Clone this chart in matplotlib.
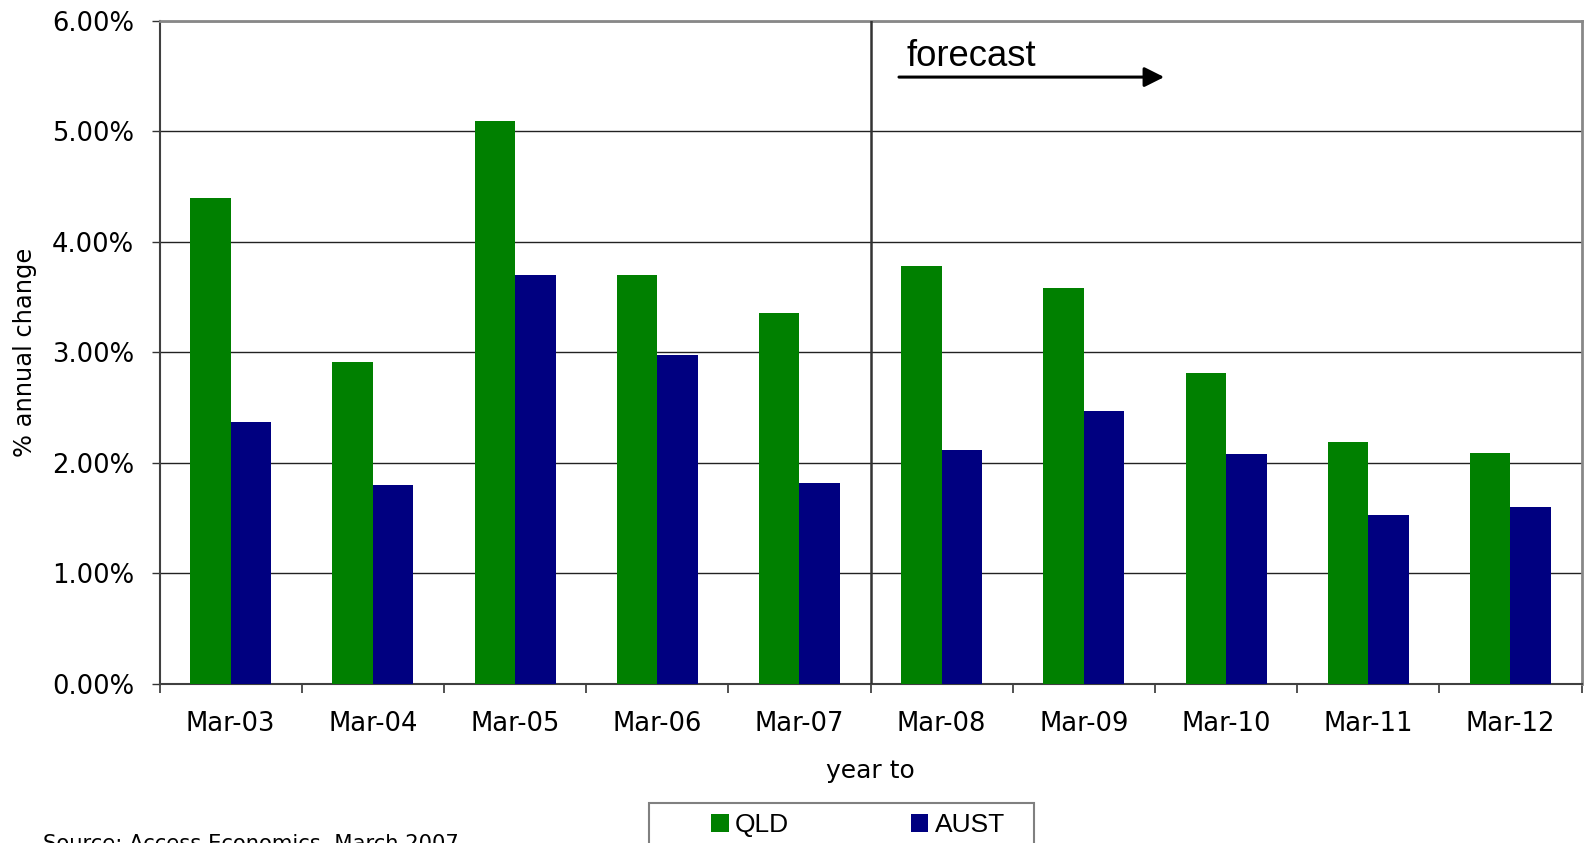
import numpy as np
import matplotlib
matplotlib.use("Agg")
import matplotlib.pyplot as plt
from matplotlib.patches import Patch, Rectangle
from matplotlib.ticker import FixedLocator, FuncFormatter

# annual change (%) for year to March
years = ["Mar-03", "Mar-04", "Mar-05", "Mar-06", "Mar-07",
         "Mar-08", "Mar-09", "Mar-10", "Mar-11", "Mar-12"]
qld = [4.40, 2.91, 5.09, 3.70, 3.36, 3.78, 3.58, 2.81, 2.19, 2.09]
aust = [2.37, 1.80, 3.70, 2.98, 1.82, 2.12, 2.47, 2.08, 1.53, 1.60]
first_forecast = "Mar-08"

GREEN = "#008000"
NAVY = "#000080"

W, H = 1584, 843


def fx(px):
    return px / W


def fy(py):
    return 1 - py / H


plt.rcParams["font.family"] = "DejaVu Sans"

fig = plt.figure(figsize=(W / 100, H / 100), dpi=100)
ax = fig.add_axes([fx(159.6), fy(684), fx(1581.5) - fx(159.6), (684 - 20.7) / H])

x = np.arange(len(years))
w = 0.285
ax.bar(x - w / 2, qld, w, color=GREEN, zorder=3)
ax.bar(x + w / 2, aust, w, color=NAVY, zorder=3)

ax.set_xlim(-0.5, len(years) - 0.5)
ax.set_ylim(0, 6)

# y axis: percent labels and black gridlines
ax.yaxis.set_major_locator(FixedLocator(np.arange(0, 7, 1)))
ax.yaxis.set_major_formatter(FuncFormatter(lambda v, p: "%.2f%%" % v))
ax.yaxis.grid(True, color="#222222", lw=1.0, zorder=1)
ax.set_axisbelow(True)
ax.tick_params(axis="y", length=5.8, width=1.0, color="#333333", pad=12.5,
               labelsize=18.6)

# x axis: labels centred on groups, tick marks between groups
ax.set_xticks(x)
ax.set_xticklabels(years)
ax.xaxis.set_minor_locator(FixedLocator(np.arange(-0.5, len(years), 1)))
ax.tick_params(axis="x", which="major", length=0, pad=19.5, labelsize=18.6)
ax.tick_params(axis="x", which="minor", length=6.5, width=1.2, color="#333333")

for side in ["left", "bottom"]:
    ax.spines[side].set_color("#404040")
    ax.spines[side].set_linewidth(1.5)
for side in ["top", "right"]:
    ax.spines[side].set_color("#888888")
    ax.spines[side].set_linewidth(2.0)

# split between actuals and forecast
split = years.index(first_forecast) - 0.5
ax.axvline(split, color="#333333", lw=1.8, zorder=4)
ax.annotate("", xy=(0.7065, 0.915), xytext=(0.520, 0.915),
            xycoords="axes fraction",
            arrowprops=dict(arrowstyle="-|>,head_length=0.6,head_width=0.3",
                            lw=2.2, color="black", mutation_scale=20,
                            shrinkA=0, shrinkB=0))
ax.text(0.5255, 0.932, "forecast", transform=ax.transAxes, ha="left",
        va="baseline", fontsize=26.3, family="Liberation Sans")

fig.text(fx(25), fy(352), "% annual change", rotation=90, ha="center",
         va="center", fontsize=17.4)
fig.text(fx(870), fy(771), "year to", ha="center", va="center", fontsize=18)

# legend: frame drawn separately so it can run past the bottom edge
handles = [Patch(facecolor=GREEN), Patch(facecolor=NAVY)]
fig.legend(handles, ["QLD", "AUST"], loc="upper left",
           bbox_to_anchor=(fx(711), fy(813)), ncol=2, frameon=False,
           borderpad=0, borderaxespad=0, handlelength=0.68, handleheight=0.68,
           handletextpad=0.23, columnspacing=4.6,
           prop={"family": "Liberation Sans", "size": 19})
fig.add_artist(Rectangle((fx(649), fy(880)), fx(1034) - fx(649), (880 - 803) / H,
                         transform=fig.transFigure, fill=False,
                         ec="#808080", lw=1.5))

fig.text(fx(43), fy(850), "Source: Access Economics, March 2007",
         ha="left", va="baseline", fontsize=15.2)

fig.savefig("out.png", dpi=100)
